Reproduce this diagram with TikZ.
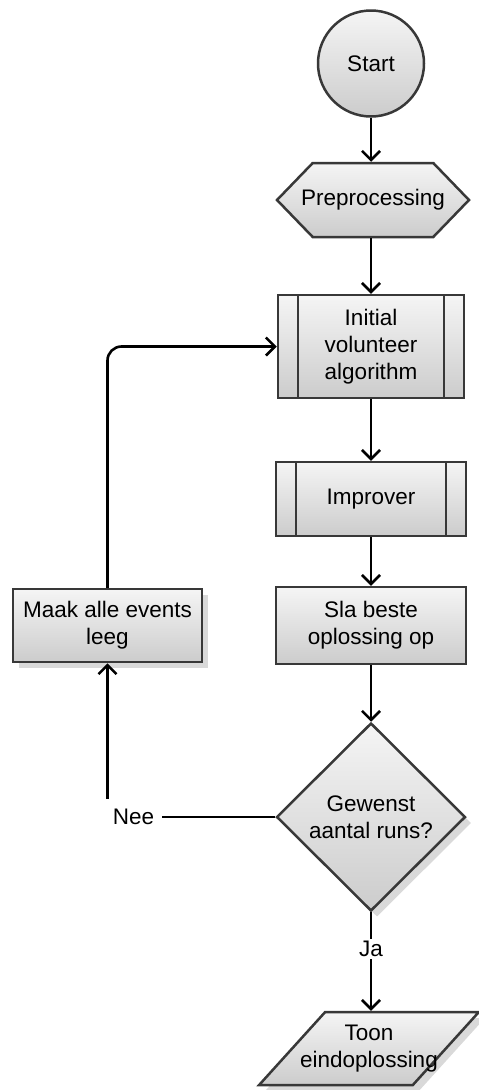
\documentclass[tikz,border=0pt]{standalone}
\usepackage{fontspec}
\setmainfont{Liberation Sans}
\usetikzlibrary{shapes.geometric,shapes.symbols,shadows,arrows.meta}
\tikzset{
	blok/.style={draw=black!78, line width=2.5pt, top color=black!4, bottom color=black!20,
		align=center, font=\fontsize{22.5}{27}\selectfont, inner sep=0pt},
	schaduw/.style={drop shadow={shadow xshift=6pt, shadow yshift=-6pt, fill=black!25, opacity=.6}},
	subproc/.style={blok, rectangle, path picture={
		\draw[black!78, line width=2.5pt]
		([xshift=20pt]path picture bounding box.north west) -- ([xshift=20pt]path picture bounding box.south west)
		([xshift=-20pt]path picture bounding box.north east) -- ([xshift=-20pt]path picture bounding box.south east);}},
	flow/.style={draw=black, line width=2.6pt, -{Straight Barb[length=9pt,width=18pt]}},
	lbl/.style={fill=white, font=\fontsize{22.5}{27}\selectfont, inner sep=2pt}
}
\begin{document}
\begin{tikzpicture}[x=1pt,y=-1pt]
	\useasboundingbox (0,0) rectangle (479,1090);
	\node[blok, circle, minimum size=106pt] (start) at (371,63.5) {Start};
	\node[blok, signal, signal to=east and west, signal pointer angle=92, minimum width=192pt, minimum height=74pt] (prep) at (373,200) {\makebox[118pt]{Preprocessing}};
	\node[subproc, minimum width=186pt, minimum height=103pt] (init) at (371,346.5) {Initial\\volunteer\\algorithm};
	\node[subproc, minimum width=190pt, minimum height=74pt] (impr) at (371,499) {Improver};
	\node[blok, rectangle, minimum width=190pt, minimum height=77pt] (sla) at (371,625.5) {Sla beste\\oplossing op};
	\node[blok, schaduw, rectangle, minimum width=189pt, minimum height=73pt] (maak) at (107.5,625.5) {Maak alle events\\leeg};
	\node[blok, schaduw, diamond, minimum width=189pt, minimum height=188pt] (dec) at (371,817) {Gewenst\\aantal runs?};
	\node[blok, schaduw, trapezium, trapezium left angle=53, trapezium right angle=127, trapezium stretches=true,
		inner sep=3pt, minimum width=220pt, minimum height=73pt,
		label={[font=\fontsize{22.5}{27}\selectfont, align=center]center:Toon\\eindoplossing}] (toon) at (369,1048.5) {};
	\draw[flow] (start) -- (start |- prep.north);
	\draw[flow] (start |- prep.south) -- (init);
	\draw[flow] (init) -- (impr);
	\draw[flow] (impr) -- (sla);
	\draw[flow] (sla) -- (dec);
	\draw[flow] (dec.west) -| (maak.south) node[lbl, pos=.5, xshift=26pt, minimum width=56pt, minimum height=36pt] (nee) {Nee};
	\draw[flow, rounded corners=14pt] (maak.north) |- (init.west);
	\draw[flow] (dec.south) -- (dec.south |- toon.north) node[lbl, pos=.37] (ja) {Ja};
\end{tikzpicture}
\end{document}
